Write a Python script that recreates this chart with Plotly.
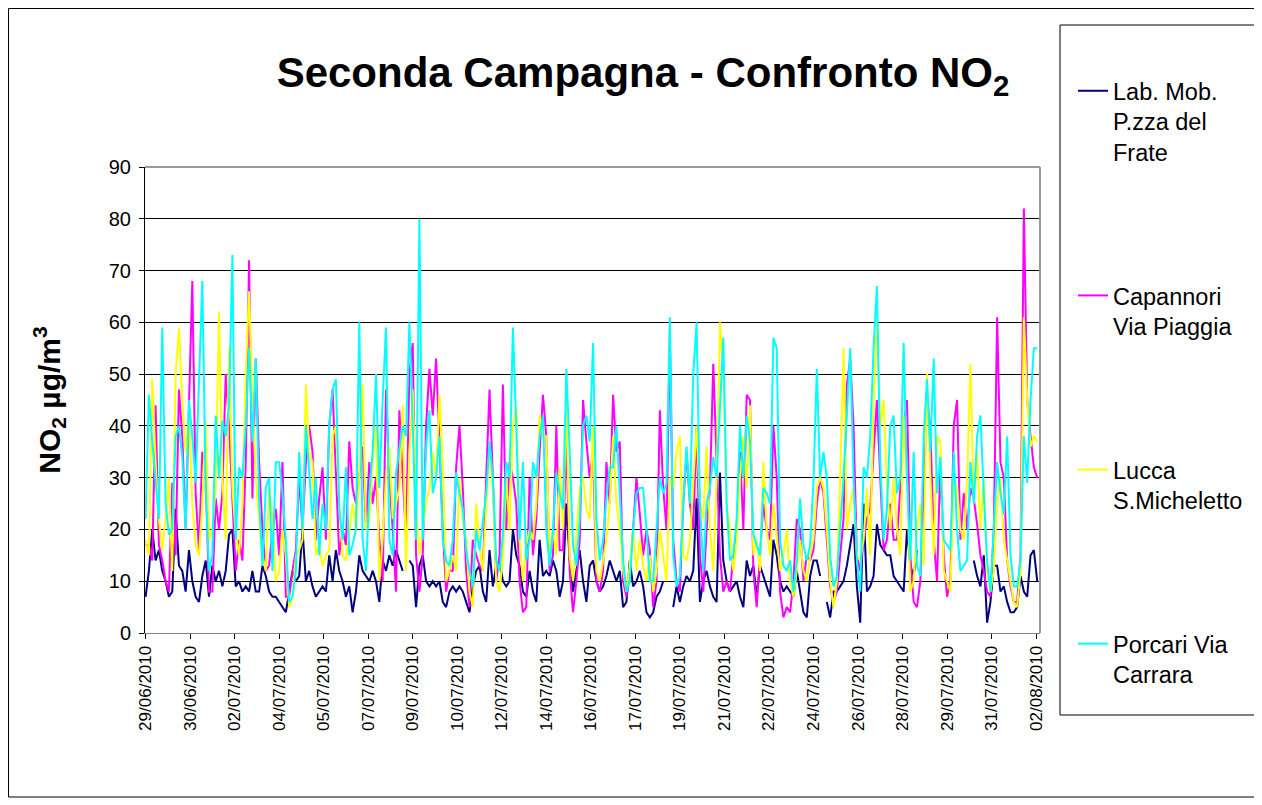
import plotly.graph_objects as go

# ---------------- data (values every 3 hours, µg/m3) ----------------
tick_labels = ["29/06/2010", "30/06/2010", "02/07/2010", "04/07/2010", "05/07/2010",
               "07/07/2010", "09/07/2010", "10/07/2010", "12/07/2010", "14/07/2010",
               "16/07/2010", "17/07/2010", "19/07/2010", "21/07/2010", "22/07/2010",
               "24/07/2010", "26/07/2010", "28/07/2010", "29/07/2010", "31/07/2010",
               "02/08/2010"]

lab_mob = [7,12,20,14,16,12,10,7,8,24,13,12,8,16,10,7,6,11,14,7,13,10,12,9,12,19,20,9,10,8,9,8,
           12,8,8,13,11,8,7,7,6,5,4,8,12,10,11,20,10,12,9,7,8,9,8,15,10,16,12,10,7,9,
           4,8,15,12,11,10,12,10,6,14,12,15,13,16,14,12,None,14,13,5,13,15,10,9,10,9,10,6,5,8,
           9,8,9,8,6,4,9,12,13,8,6,16,9,13,14,10,9,10,20,15,13,8,7,12,8,6,18,11,12,11,
           14,12,7,10,25,14,8,12,16,10,6,13,14,10,8,9,11,14,12,10,12,5,6,14,9,10,12,9,4,3,
           4,7,8,10,None,None,5,9,6,9,11,10,12,26,6,10,12,9,7,6,31,14,10,8,9,10,7,5,14,11,
           13,7,13,11,9,7,18,15,10,8,9,8,7,12,8,4,3,11,14,14,11,None,6,3,8,8,9,10,13,17,
           21,9,2,25,8,9,11,21,17,16,15,15,11,10,9,8,20,13,11,16,None,None,None,None,None,None,None,None,None,None,
           None,None,None,None,None,None,14,11,9,15,2,6,13,13,8,9,6,4,4,5,11,8,7,15,16,10]

capannori = [17,17,14,44,17,14,10,8,29,15,47,38,20,47,68,27,16,35,31,8,8,26,20,27,50,40,25,12,18,14,33,72,
             26,53,33,20,12,13,20,24,15,33,7,7,12,16,30,20,33,40,35,18,26,32,18,40,47,30,15,20,17,37,
             28,25,30,36,20,33,25,30,18,10,47,30,20,8,43,30,18,50,56,15,8,15,40,51,42,53,35,20,8,12,
             12,32,40,28,12,5,18,15,13,12,30,47,30,10,15,48,20,33,30,25,10,4,5,30,15,22,35,46,38,12,
             15,40,16,16,38,12,4,10,18,45,37,30,35,10,8,12,33,25,46,35,37,10,7,12,20,30,23,15,20,16,
             5,10,43,28,20,58,18,10,8,25,35,25,20,40,15,8,20,28,52,35,15,8,10,8,15,20,35,20,46,45,
             12,5,15,25,20,18,40,30,8,3,5,4,10,22,20,10,15,14,16,25,30,27,18,9,6,8,15,22,48,53,
             40,15,12,18,22,24,35,45,30,16,18,25,18,18,28,40,45,15,6,5,10,28,45,40,18,10,33,15,7,10,
             40,45,18,27,20,28,26,21,15,12,8,7,20,61,33,30,14,9,6,6,15,82,45,38,32,30]

lucca = [18,15,49,33,22,16,22,30,12,50,59,45,35,42,25,17,15,25,41,18,20,28,62,30,18,55,28,19,15,25,50,66,
         46,30,22,15,12,28,22,10,12,20,15,5,7,15,16,18,48,35,33,15,17,13,15,16,38,40,25,15,14,20,
         25,20,30,48,20,22,33,40,10,18,30,36,22,25,28,44,12,35,47,25,15,20,25,28,35,30,46,33,10,12,
         15,12,30,22,18,8,5,25,17,12,25,36,28,10,8,15,30,20,40,44,18,10,17,20,18,25,42,38,38,14,
         20,15,32,20,45,15,10,20,28,30,24,22,40,12,10,14,18,25,38,25,20,12,8,13,20,12,18,13,10,15,
         8,12,20,15,10,30,28,35,38,15,14,18,30,40,25,22,36,20,12,30,60,50,25,20,12,18,30,38,28,44,
         15,18,12,33,20,15,25,18,12,15,20,10,7,12,18,12,10,15,18,28,30,28,20,10,5,10,30,55,20,25,
         28,15,14,18,28,15,45,60,40,45,28,20,30,20,15,42,30,8,10,20,25,13,50,30,15,38,37,12,10,8,
         30,28,20,18,30,52,25,35,20,30,12,8,12,25,30,18,14,10,6,5,12,61,45,36,38,37]

porcari = [22,46,37,30,22,59,25,19,20,38,40,34,20,45,38,29,48,68,28,12,15,42,30,41,38,44,73,18,32,30,40,55,
           37,53,26,13,28,30,12,33,33,27,18,6,7,12,35,20,40,30,22,30,15,25,20,40,47,49,24,18,32,15,
           17,20,60,18,12,27,35,50,28,45,59,18,15,31,36,40,38,60,40,18,80,18,36,43,27,30,38,18,14,13,
           18,31,27,24,16,12,9,20,16,21,27,37,30,14,12,19,33,30,59,40,18,33,14,18,33,30,38,42,20,13,
           20,31,27,24,51,35,17,13,22,40,42,37,56,22,14,18,26,32,32,40,28,14,8,10,20,27,28,28,20,10,
           10,19,30,27,29,61,15,9,11,25,36,25,50,60,25,12,25,28,34,30,45,57,25,14,15,22,40,30,42,37,
           19,17,15,28,27,25,57,55,18,13,12,14,8,14,26,17,14,17,29,51,30,35,30,15,9,11,20,30,42,55,
           30,14,8,32,30,38,55,67,33,18,24,40,42,27,30,56,30,14,35,13,11,38,49,35,53,27,34,18,17,16,
           35,20,12,13,14,33,25,38,42,27,14,8,22,33,27,23,38,15,9,9,14,38,29,45,55,55]

series_names = ["Lab. Mob.<br>P.zza del<br>Frate", "Capannori<br>Via Piaggia",
                "Lucca<br>S.Micheletto", "Porcari Via<br>Carrara"]
series_values = [lab_mob, capannori, lucca, porcari]
series_colors = ["#000080", "#FF00FF", "#FFFF00", "#00FFFF"]

STEP_H = 3          # hours between stored values
LABEL_EVERY_H = 40  # category label interval (hours)
TOTAL_H = 804       # number of hourly categories on the axis

# ---------------- geometry (page has an 8 px body margin) ----------------
OFF = 8
W, H = 1262 - OFF, 805 - OFF
L, R, T, B = 145 - OFF, 222, 167 - OFF, 172
PW, PH = W - L - R, H - T - B
def px_x(px):          # screen pixel -> paper x
    return (px - OFF - L) / PW
def px_y(py):          # screen pixel -> paper y
    return (H - B - (py - OFF)) / PH

FONT = "Arial, 'Liberation Sans', sans-serif"

fig = go.Figure()
for name, vals, col in zip(series_names, series_values, series_colors):
    fig.add_trace(go.Scatter(
        x=[i * STEP_H for i in range(len(vals))], y=vals, mode="lines", name=name,
        legendgroup=name, line=dict(color=col, width=2), connectgaps=False,
        hoverinfo="skip"))

fig.update_layout(
    width=W, height=H,
    margin=dict(l=L, r=R, t=T, b=B, autoexpand=False),
    paper_bgcolor="white", plot_bgcolor="white",
    font=dict(family=FONT, color="black", size=17),
    title=dict(text="Seconda Campagna - Confronto NO<sub>2</sub>",
               font=dict(family=FONT, size=42, color="black", weight="bold"),
               x=(643 - OFF) / W, xanchor="center", xref="container",
               y=1 - (72 - OFF) / H, yanchor="middle", yref="container"),
    showlegend=True,
    legend=dict(x=px_x(1073), y=px_y(69), xanchor="left", yanchor="top",
                bgcolor="rgba(0,0,0,0)", borderwidth=0, traceorder="grouped",
                tracegroupgap=110, valign="top",
                font=dict(family=FONT, size=23.5, color="black")),
    xaxis=dict(range=[-0.5, TOTAL_H - 0.5], showgrid=False, zeroline=False,
               showline=True, linecolor="#808080", linewidth=1,
               tickmode="array",
               tickvals=[k * LABEL_EVERY_H for k in range(len(tick_labels))],
               ticktext=tick_labels, tickangle=-90, ticks="outside",
               ticklen=5, tickcolor="black",
               tickfont=dict(family=FONT, size=17, color="black")),
    yaxis=dict(range=[0, 90], dtick=10, tick0=0, showgrid=True, gridcolor="black",
               gridwidth=1, zeroline=False, showline=True, linecolor="black",
               linewidth=1, ticks="outside", ticklen=5, tickcolor="black",
               tickfont=dict(family=FONT, size=20, color="black"),
               title=dict(text="<b>NO<sub>2</sub> µg/m<sup>3</sup></b>",
                          font=dict(family=FONT, size=30, color="black"),
                          standoff=39)),
    shapes=[
        # plot area border (top and right, grey)
        dict(type="line", xref="paper", yref="paper", x0=0, x1=1, y0=1, y1=1,
             line=dict(color="#999999", width=2), layer="above"),
        dict(type="line", xref="paper", yref="paper", x0=1, x1=1, y0=0, y1=1,
             line=dict(color="#999999", width=2), layer="above"),
        # legend box
        dict(type="rect", xref="paper", yref="paper",
             x0=px_x(1060), x1=px_x(1290), y0=px_y(715), y1=px_y(25),
             line=dict(color="black", width=1), fillcolor="rgba(0,0,0,0)", layer="below"),
        # chart outer border
        dict(type="rect", xref="paper", yref="paper",
             x0=px_x(8.5), x1=px_x(1290), y0=px_y(797), y1=px_y(8.5),
             line=dict(color="black", width=1), fillcolor="rgba(0,0,0,0)", layer="below"),
    ],
)

# let the tall legend show all entries without a scroll bar
try:
    fig.update_layout(legend_maxheight=1000)
except Exception:
    fig.update_layout(legend_tracegroupgap=50)

# a little more room between the y tick labels and the ticks
try:
    fig.update_yaxes(ticklabelstandoff=4)
except Exception:
    pass

fig.write_html("out.html")
